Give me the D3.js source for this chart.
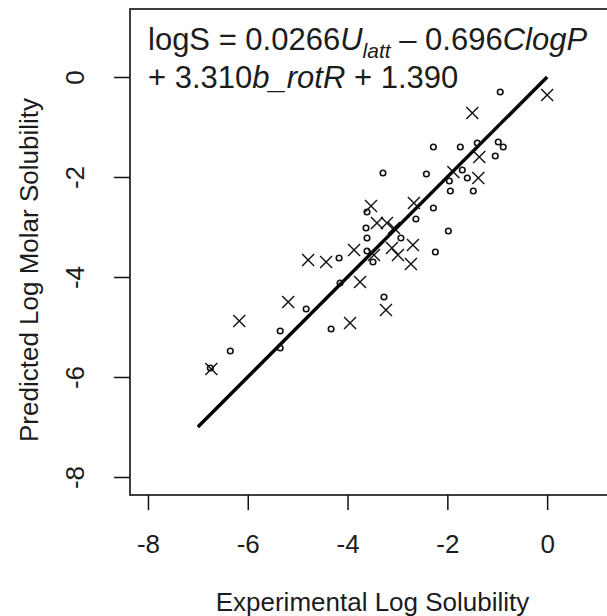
<!DOCTYPE html>
<html><head><meta charset="utf-8">
<script src="https://cdn.jsdelivr.net/npm/d3@7"></script>
<style>
body{margin:0;background:#fff}
svg{display:block}
text{font-family:"Liberation Sans",Arial,Helvetica,sans-serif;fill:#1c1c1c}
</style>
</head><body>
<svg id="chart" width="607" height="616"></svg>
<script>
// ---- data ----
const xTicks = [-8, -6, -4, -2, 0];
const yTicks = [-8, -6, -4, -2, 0];
const xTitle = "Experimental Log Solubility";
const yTitle = "Predicted Log Molar Solubility";

// open circles (experimental, predicted)
const circleX = [-0.94,-2.28,-1.74,-1.40,-0.98,-0.88,-1.04,-1.70,-1.60,-1.96,-1.94,-1.48,-2.42,-3.29,-3.61,-2.28,-2.63,-3.63,-3.61,-2.93,-1.98,-3.61,-2.24,-3.49,-4.17,-4.15,-3.27,-4.83,-4.33,-5.35,-5.35,-6.35,-6.75];
const circleY = [-0.30,-1.40,-1.40,-1.32,-1.30,-1.40,-1.58,-1.86,-2.02,-2.08,-2.28,-2.28,-1.94,-1.92,-2.70,-2.62,-2.84,-3.02,-3.22,-3.22,-3.08,-3.48,-3.50,-3.70,-3.62,-4.12,-4.40,-4.64,-5.04,-5.08,-5.42,-5.48,-5.82];

// crosses (experimental, predicted)
const crossX = [0.00,-1.50,-1.36,-1.88,-1.38,-3.53,-2.67,-3.41,-3.21,-3.07,-2.69,-3.11,-3.87,-3.47,-2.99,-2.73,-4.79,-4.43,-3.75,-5.19,-3.23,-3.95,-6.17,-6.73];
const crossY = [-0.36,-0.72,-1.60,-1.90,-2.02,-2.58,-2.52,-2.92,-2.92,-3.02,-3.36,-3.42,-3.46,-3.56,-3.56,-3.74,-3.66,-3.70,-4.10,-4.50,-4.66,-4.92,-4.88,-5.84];

// identity (fit) line endpoints
const lineX = [-7, 0];
const lineY = [-7, 0];

// ---- chart ----
const svg = d3.select("#chart");
const xDom = [-8.36, 1.36], yDom = [-8.36, 1.36];
const x = d3.scaleLinear().domain(xDom).range([130, 615]);
const y = d3.scaleLinear().domain(yDom).range([495, 9]);
const fmt = d => String(d);

// box
svg.append("rect")
  .attr("x", x(xDom[0])).attr("y", y(yDom[1]))
  .attr("width", x(xDom[1]) - x(xDom[0]))
  .attr("height", y(yDom[0]) - y(yDom[1]))
  .attr("fill", "none").attr("stroke", "#111").attr("stroke-width", 1.6);

// x axis
const gx = svg.append("g").attr("transform", `translate(0,${y(yDom[0])})`)
  .call(d3.axisBottom(x).tickValues(xTicks).tickSize(15).tickPadding(25).tickFormat(fmt));
gx.select(".domain").remove();
gx.selectAll(".tick line").attr("stroke", "#111").attr("stroke-width", 1.5);
gx.selectAll(".tick text").style("font-size", "26px").attr("fill", "#1c1c1c")
  .style("font-family", '"Liberation Sans",Arial,sans-serif');

// y axis
const gy = svg.append("g").attr("transform", `translate(${x(xDom[0])},0)`)
  .call(d3.axisLeft(y).tickValues(yTicks).tickSize(16).tickFormat(fmt));
gy.select(".domain").remove();
gy.selectAll(".tick line").attr("stroke", "#111").attr("stroke-width", 1.5);
gy.selectAll(".tick text")
  .attr("x", 0).attr("y", -46).attr("dy", 0)
  .attr("transform", "rotate(-90)")
  .attr("text-anchor", "middle")
  .style("font-size", "26px").attr("fill", "#1c1c1c")
  .style("font-family", '"Liberation Sans",Arial,sans-serif');

// titles
svg.append("text").attr("x", (x(xDom[0]) + x(xDom[1])) / 2).attr("y", 611)
  .attr("text-anchor", "middle").style("font-size", "26px").text(xTitle);
svg.append("text")
  .attr("transform", `translate(38,270) rotate(-90)`)
  .attr("text-anchor", "middle").style("font-size", "26px").text(yTitle);

// clip for plot region
svg.append("clipPath").attr("id", "clip").append("rect")
  .attr("x", x(xDom[0])).attr("y", y(yDom[1]))
  .attr("width", x(xDom[1]) - x(xDom[0])).attr("height", y(yDom[0]) - y(yDom[1]));
const plot = svg.append("g").attr("clip-path", "url(#clip)");

// fit line
plot.append("path")
  .datum(lineX.map((v, i) => [v, lineY[i]]))
  .attr("d", d3.line().x(d => x(d[0])).y(d => y(d[1])))
  .attr("stroke", "#000").attr("stroke-width", 3.4).attr("fill", "none");

// circles
plot.selectAll("circle.pt").data(circleX.map((v, i) => [v, circleY[i]])).enter()
  .append("circle").attr("class", "pt")
  .attr("cx", d => x(d[0])).attr("cy", d => y(d[1])).attr("r", 2.8)
  .attr("fill", "none").attr("stroke", "#111").attr("stroke-width", 1.6);

// crosses
const s = 6;
plot.selectAll("path.cross").data(crossX.map((v, i) => [v, crossY[i]])).enter()
  .append("path").attr("class", "cross")
  .attr("transform", d => `translate(${x(d[0])},${y(d[1])})`)
  .attr("d", `M${-s},${-s}L${s},${s}M${-s},${s}L${s},${-s}`)
  .attr("stroke", "#111").attr("stroke-width", 1.4).attr("fill", "none");

// equation
const eq = svg.append("g").style("font-size", "31px");
const t1 = eq.append("text").attr("x", 148).attr("y", 50);
t1.append("tspan").text("logS = 0.0266");
t1.append("tspan").style("font-style", "italic").text("U");
t1.append("tspan").style("font-style", "italic").style("font-size", "21px").attr("dy", 8).text("latt");
t1.append("tspan").attr("dy", -8).text(" \u2013 0.696");
t1.append("tspan").style("font-style", "italic").text("ClogP");
const t2 = eq.append("text").attr("x", 148).attr("y", 88);
t2.append("tspan").text("+ 3.310");
t2.append("tspan").style("font-style", "italic").text("b_rotR");
t2.append("tspan").text(" + 1.390");
</script>
</body></html>
